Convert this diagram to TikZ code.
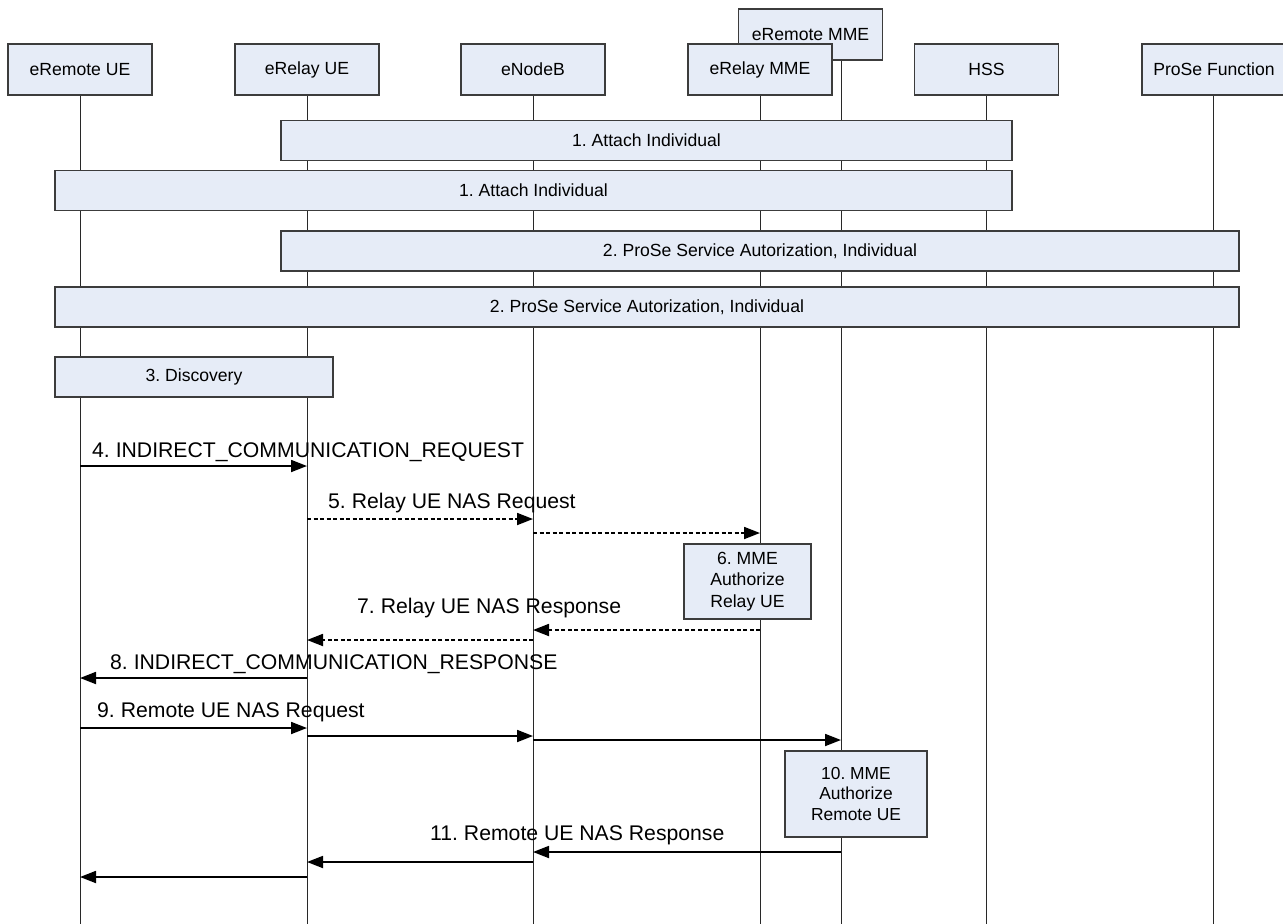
\documentclass[tikz,border=0pt]{standalone}
\usepackage{fontspec}
\setmainfont{Liberation Sans}
\usetikzlibrary{arrows.meta}
\definecolor{boxfill}{RGB}{230,236,247}
\definecolor{boxline}{RGB}{60,60,60}
\definecolor{lifeline}{RGB}{40,40,40}
\pgfdeclarelayer{lines}
\pgfsetlayers{lines,main}
\frenchspacing

\begin{document}
\begin{tikzpicture}[x=1pt,y=-1pt,
  every node/.style={font=\fontsize{17.6}{21.5}\selectfont, inner sep=0pt, text=black},
  actor/.style={draw=boxline, fill=boxfill, line width=1.2pt, minimum width=144pt, minimum height=51pt},
  grp/.style={draw=boxline, fill=boxfill, line width=1.2pt, minimum height=40pt},
  task/.style={draw=boxline, fill=boxfill, line width=1.2pt, align=center},
  life/.style={line width=1pt, draw=lifeline},
  msg/.style={line width=1.8pt, -{Triangle[length=16pt,width=12pt]}},
  dmsg/.style={msg, dash pattern=on 4pt off 2.5pt},
  mlabel/.style={font=\fontsize{21.2}{25}\selectfont, anchor=base west},
]
\useasboundingbox (0,0) rectangle (1283,924);

% participants
\node[actor] (remoteUE) at (80,69.5) {eRemote UE};
\node[actor] (relayUE) at (307,69.5) {eRelay UE};
\node[actor] (enb) at (533,69.5) {eNodeB};
\node[actor] (remoteMME) at (810.5,34.5) {eRemote MME};
\node[actor] (relayMME) at (760,69.5) {eRelay MME};
\node[actor] (hss) at (986.5,69.5) {HSS};
\node[actor] (prose) at (1214,69.5) {ProSe Function};

% lifeline tops and the bottom edge
\coordinate (lRemUE) at (remoteUE.south);
\coordinate (lRelUE) at (relayUE.south);
\coordinate (lEnb) at (enb.south);
\coordinate (lRelMME) at (relayMME.south);
\coordinate (lRemMME) at (841,60);
\coordinate (lHss) at (hss.south);
\coordinate (lProse) at (1213,95);
\coordinate (yEnd) at (0,924);

% lifelines sit behind every box
\begin{pgfonlayer}{lines}
\draw[life] (lRemUE) -- (lRemUE |- yEnd);
\draw[life] (lRelUE) -- (lRelUE |- yEnd);
\draw[life] (lEnb) -- (lEnb |- yEnd);
\draw[life] (lRelMME) -- (lRelMME |- yEnd);
\draw[life] (lRemMME) -- (lRemMME |- yEnd);
\draw[life] (lHss) -- (lHss |- yEnd);
\draw[life] (lProse) -- (lProse |- yEnd);
\end{pgfonlayer}

% procedure spans
\node[grp, minimum width=731pt] (att1) at (646.5,140.5) {1. Attach Individual};
\node[grp, minimum width=957pt] (att2) at (533.5,190.5) {1. Attach Individual};
\node[grp, minimum width=958pt] (auth1) at (760,251) {2. ProSe Service Autorization, Individual};
\node[grp, minimum width=1184pt] (auth2) at (647,307) {2. ProSe Service Autorization, Individual};
\node[grp, minimum width=278pt] (disc) at (194,377) {3. Discovery};

% message rows
\coordinate (y4) at (0,466);
\coordinate (y5a) at (0,519);
\coordinate (y5b) at (0,533);
\coordinate (y7a) at (0,630);
\coordinate (y7b) at (0,640);
\coordinate (y8) at (0,678);
\coordinate (y9a) at (0,728);
\coordinate (y9b) at (0,736);
\coordinate (y9c) at (0,740);
\coordinate (y11a) at (0,852);
\coordinate (y11b) at (0,862);
\coordinate (y11c) at (0,877);

\draw[msg] (lRemUE |- y4) -- (lRelUE |- y4);
\node[mlabel] (t4) at (92,457) {4. INDIRECT\_COMMUNICATION\_REQUEST};

\draw[dmsg] (lRelUE |- y5a) -- (lEnb |- y5a);
\draw[dmsg] (lEnb |- y5b) -- (lRelMME |- y5b);
\node[mlabel] (t5) at (328,508) {5. Relay UE NAS Request};

\node[task, minimum width=127pt, minimum height=75pt] (auth6) at (747.5,581.5) {6. MME\\Authorize\\Relay UE};

\draw[dmsg] (lRelMME |- y7a) -- (lEnb |- y7a);
\draw[dmsg] (lEnb |- y7b) -- (lRelUE |- y7b);
\node[mlabel] (t7) at (357,613) {7. Relay UE NAS Response};

\draw[msg] (lRelUE |- y8) -- (lRemUE |- y8);
\node[mlabel] (t8) at (110,669) {8. INDIRECT\_COMMUNICATION\_RESPONSE};

\draw[msg] (lRemUE |- y9a) -- (lRelUE |- y9a);
\draw[msg] (lRelUE |- y9b) -- (lEnb |- y9b);
\draw[msg] (lEnb |- y9c) -- (lRemMME |- y9c);
\node[mlabel] (t9) at (97,717) {9. Remote UE NAS Request};

\node[task, minimum width=142pt, minimum height=86pt, font=\fontsize{17.4}{20.7}\selectfont] (auth10) at (856,794) {10. MME\\Authorize\\Remote UE};

\draw[msg] (lRemMME |- y11a) -- (lEnb |- y11a);
\draw[msg] (lEnb |- y11b) -- (lRelUE |- y11b);
\draw[msg] (lRelUE |- y11c) -- (lRemUE |- y11c);
\node[mlabel] (t11) at (430,840) {11. Remote UE NAS Response};
\end{tikzpicture}
\end{document}
